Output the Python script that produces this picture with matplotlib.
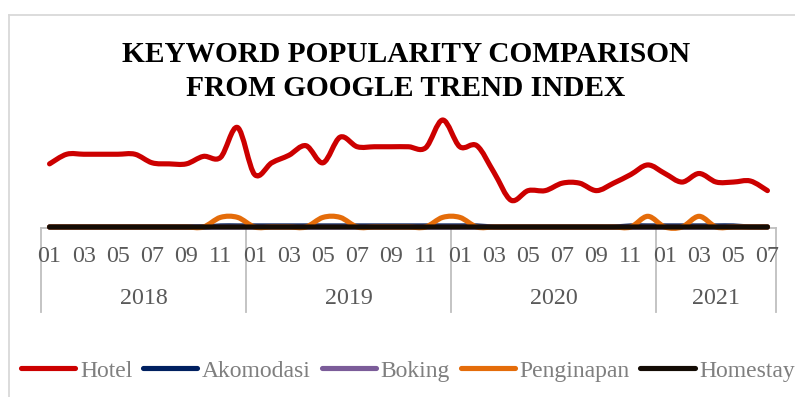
import matplotlib
matplotlib.use("Agg")
import matplotlib.pyplot as plt
from matplotlib.path import Path
from matplotlib.patches import PathPatch
from matplotlib.lines import Line2D

# ---------------- data ----------------
years = ["2018", "2019", "2020", "2021"]
months_per_year = [12, 12, 12, 7]
month_labels = ["01", "02", "03", "04", "05", "06", "07", "08", "09", "10", "11", "12"]

hotel = [59, 68, 68, 68, 68, 68, 60, 59, 59, 66, 65, 93,
         49, 60, 67, 76, 60, 84, 75, 75, 75, 75, 74, 100,
         75, 76, 51, 25, 34, 34, 41, 41, 34, 41, 49, 58,
         50, 42, 50, 42, 42, 43, 34]
akomodasi = [0, 0, 0, 0, 0, 0, 0, 0, 0, 0, 1, 1,
             1, 1, 1, 1, 1, 1, 1, 1, 1, 1, 1, 1,
             1, 1, 0, 0, 0, 0, 0, 0, 0, 0, 1, 1,
             1, 1, 1, 1, 1, 0, 0]
boking = [0] * 43
penginapan = [0, 0, 0, 0, 0, 0, 0, 0, 0, 0, 9, 9,
              0, 0, 0, 0, 9, 9, 0, 0, 0, 0, 0, 9,
              9, 0, 0, 0, 0, 0, 0, 0, 0, 0, 0, 10,
              0, 0, 10, 0, 0, 0, 0]
homestay = [0] * 43

series_names = ["Hotel", "Akomodasi", "Boking", "Penginapan", "Homestay"]
series_values = [hotel, akomodasi, boking, penginapan, homestay]
series_colors = ["#CC0000", "#002060", "#7B5C99", "#E46C0A", "#140C05"]

title = "KEYWORD POPULARITY COMPARISON\nFROM GOOGLE TREND INDEX"

# ---------------- figure ----------------
W, H = 795, 397
fig = plt.figure(figsize=(W / 100, H / 100), dpi=100)
fig.patch.set_facecolor("white")
SERIF = ["Liberation Serif", "DejaVu Serif"]

ax = fig.add_axes([41 / W, 1 - 227 / H, 735 / W, 107 / H])
n = sum(months_per_year)
ax.set_xlim(-0.5, n - 0.5)
ax.set_ylim(0, 100)
ax.axis("off")


def smooth_path(xs, ys):
    verts = [(xs[0], ys[0])]
    codes = [Path.MOVETO]
    m = len(xs)
    for i in range(m - 1):
        p0 = i - 1 if i > 0 else i
        p3 = i + 2 if i + 2 < m else i + 1
        c1 = (xs[i] + (xs[i + 1] - xs[p0]) / 6, ys[i] + (ys[i + 1] - ys[p0]) / 6)
        c2 = (xs[i + 1] - (xs[p3] - xs[i]) / 6, ys[i + 1] - (ys[p3] - ys[i]) / 6)
        verts += [c1, c2, (xs[i + 1], ys[i + 1])]
        codes += [Path.CURVE4] * 3
    return Path(verts, codes)


# category axis line and group separators
trans_x = ax.get_xaxis_transform()
ax.plot([-0.5, n - 0.5], [-0.01, -0.01], color="#BFBFBF", lw=1.3,
        transform=trans_x, clip_on=False, zorder=1)
bounds = [-0.5]
for c in months_per_year:
    bounds.append(bounds[-1] + c)
for b in bounds:
    ax.plot([b, b], [-0.01, -0.794], color="#BFBFBF", lw=1.3,
            transform=trans_x, clip_on=False, zorder=1)

# month labels (every other month) and year labels
idx = 0
for yr, c in zip(years, months_per_year):
    for k in range(c):
        if k % 2 == 0:
            ax.text(idx + k, -0.28, month_labels[k], transform=trans_x,
                    ha="center", va="center", fontsize=17.3, color="#595959",
                    family=SERIF)
    ax.text(idx + (c - 1) / 2, -0.664, yr, transform=trans_x,
            ha="center", va="center", fontsize=17.3, color="#595959",
            family=SERIF)
    idx += c

# series as smoothed lines
x = list(range(n))
handles = []
for i, (name, vals, col) in enumerate(zip(series_names, series_values, series_colors)):
    patch = PathPatch(smooth_path(x, vals), fill=False, edgecolor=col,
                      lw=3.7, capstyle="round", joinstyle="round",
                      zorder=3 + i, clip_on=False)
    ax.add_patch(patch)
    handles.append(Line2D([], [], color=col, lw=3.7, solid_capstyle="round"))

# title
fig.text(406 / W, 1 - 41 / H, title, ha="center", va="top", fontsize=21.2,
         fontweight="bold", color="black", family=SERIF, linespacing=1.33)

# legend
leg = fig.legend(handles, series_names, loc="center left",
                 bbox_to_anchor=(21 / W, 1 - 371 / H), ncol=5, frameon=False,
                 borderaxespad=0, borderpad=0, handlelength=2.3,
                 handletextpad=0.2, columnspacing=0.45,
                 prop={"family": SERIF, "size": 17})
for t in leg.get_texts():
    t.set_color("#7F7F7F")

# chart frame (left and top borders visible)
fig.add_artist(Line2D([9 / W, 9 / W], [0, 1 - 15 / H], color="#D9D9D9",
                      lw=1.3, transform=fig.transFigure))
fig.add_artist(Line2D([9 / W, 1.0], [1 - 15 / H, 1 - 15 / H], color="#D9D9D9",
                      lw=1.3, transform=fig.transFigure))

fig.savefig("out.png", dpi=100)
